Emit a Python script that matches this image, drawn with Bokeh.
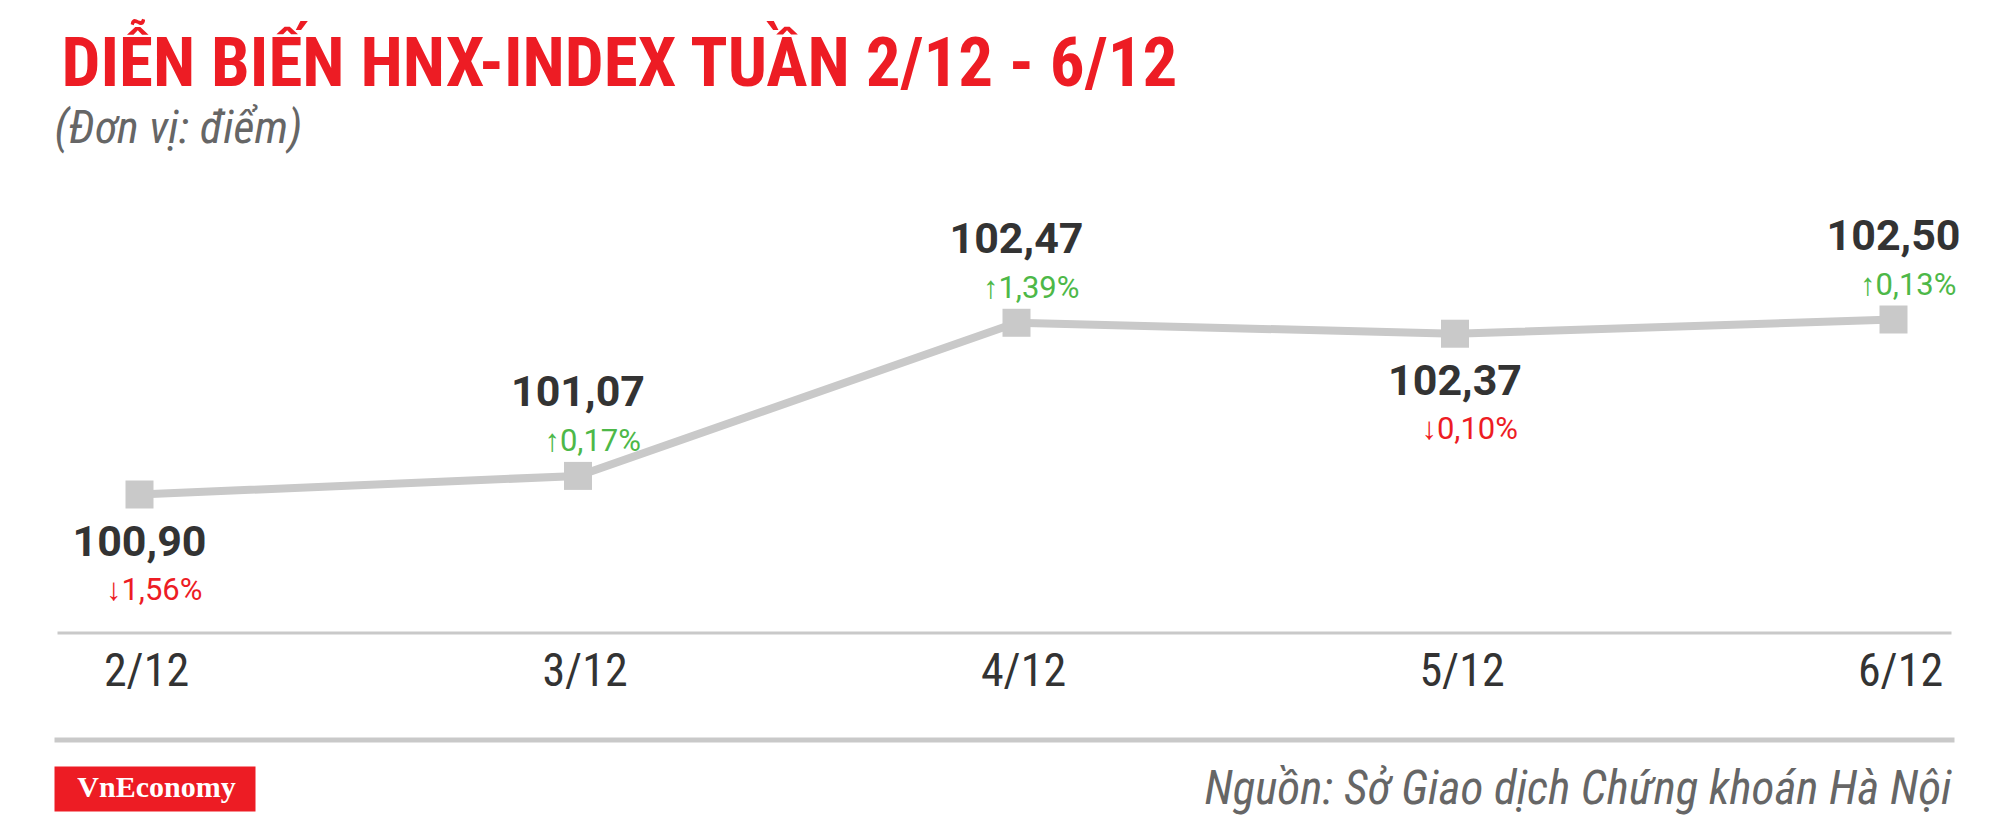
from bokeh.plotting import figure
from bokeh.models import Range1d, ColumnDataSource
from bokeh.core.properties import value
from bokeh.embed import file_html
from bokeh.resources import INLINE

# ---- data ----
dates = ["2/12", "3/12", "4/12", "5/12", "6/12"]
index_values = [100.90, 101.07, 102.47, 102.37, 102.50]
pct_changes = [-1.56, 0.17, 1.39, -0.10, 0.13]
label_side = ["below", "above", "above", "below", "above"]

title_text = "DIỄN BIẾN HNX-INDEX TUẦN 2/12 - 6/12"
subtitle_text = "(Đơn vị: điểm)"
source_text = "Nguồn: Sở Giao dịch Chứng khoán Hà Nội"
logo_text = "VnEconomy"

# ---- style ----
W, H = 2000, 828
RED = "#ED1C24"
GREEN = "#4DB848"
GRAY_LINE = "#C9C9C9"
DARK = "#333333"
GRAY_TXT = "#666666"
NARROW = "'Liberation Sans Narrow', 'Roboto Condensed', 'DejaVu Sans Condensed', Roboto"

xs = list(range(len(dates)))

p = figure(width=W, height=H, output_backend="svg", toolbar_location=None, title=None,
           x_range=Range1d(-0.31699, 4.24401), y_range=Range1d(97.8463, 105.4166),
           x_axis_type=None, y_axis_type=None, min_border=0,
           outline_line_color=None, background_fill_color="white",
           border_fill_color="white")
p.grid.visible = False
p.extra_x_ranges = {"px": Range1d(0, W)}
p.extra_y_ranges = {"px": Range1d(H, 0)}

# title & subtitle
p.text(x=[61], y=[62], text=[title_text], x_range_name="px", y_range_name="px",
       text_font=value(NARROW), text_font_style="bold", text_font_size="69px",
       text_color=RED, text_baseline="alphabetic", text_align="left")
p.text(x=[54], y=[126], text=[subtitle_text], x_range_name="px", y_range_name="px",
       text_font=value(NARROW), text_font_style="italic", text_font_size="46px",
       text_color=GRAY_TXT, text_baseline="alphabetic", text_align="left")

# axis line and bottom rule
p.segment(x0=[57], x1=[1951], y0=[632.5], y1=[632.5], x_range_name="px", y_range_name="px",
          line_color=GRAY_LINE, line_width=3)
p.segment(x0=[54], x1=[1954], y0=[739.5], y1=[739.5], x_range_name="px", y_range_name="px",
          line_color=GRAY_LINE, line_width=5)

# tick labels
p.text(x=xs, y=[669] * len(xs), text=dates, y_range_name="px", x_offset=7,
       text_font=value(NARROW), text_font_size="46px", text_color=DARK,
       text_baseline="alphabetic", text_align="center")

# line + markers
p.line(xs, index_values, line_color=GRAY_LINE, line_width=8)
p.scatter(xs, index_values, marker="square", size=28, fill_color=GRAY_LINE, line_color=None)

# value & pct labels
val_txt = [f"{v:.2f}".replace(".", ",") for v in index_values]
pct_txt = [("↑" if c >= 0 else "↓") + f"{abs(c):.2f}".replace(".", ",") + "%" for c in pct_changes]
pct_col = [GREEN if c >= 0 else RED for c in pct_changes]
val_off = [-85 if s == "above" else 46 for s in label_side]
pct_off = [-35 if s == "above" else 95 for s in label_side]

src = ColumnDataSource(dict(x=xs, y=index_values, vt=val_txt, pt=pct_txt, pc=pct_col,
                            vo=val_off, po=pct_off))
p.text(x="x", y="y", text="vt", y_offset="vo", source=src,
       text_font=value("Roboto"), text_font_style="bold", text_font_size="43px",
       text_color=DARK, text_baseline="alphabetic", text_align="center")
p.text(x="x", y="y", text="pt", y_offset="po", x_offset=63, source=src,
       text_font=value("Roboto"), text_font_size="31px",
       text_color="pc", text_baseline="alphabetic", text_align="right")

# logo
p.quad(left=[54], right=[255], top=[766], bottom=[811], x_range_name="px", y_range_name="px",
       fill_color=RED, line_color=None)
p.text(x=[156], y=[786], text=[logo_text], x_range_name="px", y_range_name="px",
       text_font=value("Liberation Serif"), text_font_style="bold", text_font_size="30px",
       text_color="white", text_baseline="alphabetic", text_align="center")

# source
p.text(x=[1951], y=[787], text=[source_text], x_range_name="px", y_range_name="px",
       text_font=value(NARROW), text_font_style="italic", text_font_size="47px",
       text_color=GRAY_TXT, text_baseline="alphabetic", text_align="right")

open("out.html", "w").write(file_html(p, INLINE))
